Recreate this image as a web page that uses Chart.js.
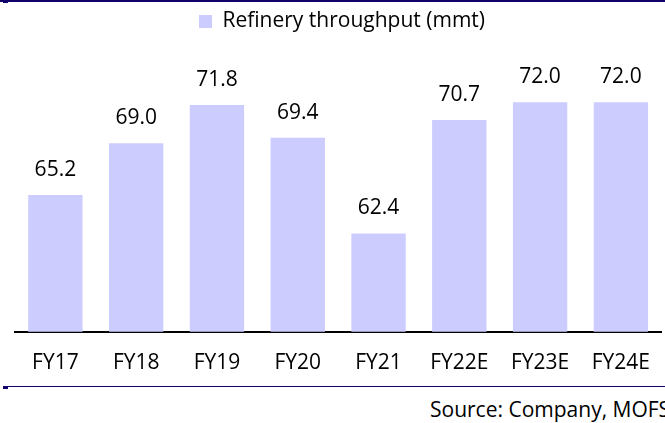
<!DOCTYPE html>
<html>
<head>
<meta charset="utf-8">
<script src="https://cdn.jsdelivr.net/npm/chart.js@4.4.1/dist/chart.umd.min.js"></script>
<style>
  html, body { margin: 0; padding: 0; background: #fff; overflow: hidden; }
  body { width: 665px; height: 423px; position: relative; }
  #c1 { position: absolute; left: 0; top: 0; }
  .rule { position: absolute; left: 0; width: 665px; background: #14006b; }
  #source { position: absolute; left: 430px; top: 395px; white-space: nowrap;
            font-family: 'Open Sans', sans-serif; font-size: 21px; color: #000; }
</style>
</head>
<body>
<div class="rule" style="top:0px;height:2px"></div>
<div class="rule" style="top:1px;left:3px;width:5px;height:2px"></div>
<canvas id="c1" width="669" height="395"></canvas>
<div class="rule" style="top:386px;left:3px;height:1px"></div>
<div class="rule" style="top:387px;left:3px;width:5px;height:2px"></div>
<div id="source">Source: Company, MOFS</div>
<script>
const YEARS = ['FY17', 'FY18', 'FY19', 'FY20', 'FY21', 'FY22E', 'FY23E', 'FY24E'];
const THROUGHPUT = [65.2, 69.0, 71.8, 69.4, 62.4, 70.7, 72.0, 72.0];
const SERIES_LABEL = 'Refinery throughput (mmt)';
const FONT = "'Open Sans', sans-serif";

// value labels above each bar
const valueLabels = {
    id: 'valueLabels',
    afterDatasetsDraw(chart){
        const ctx = chart.ctx;
        const meta = chart.getDatasetMeta(0);
        ctx.save();
        ctx.font = '21px ' + FONT;
        ctx.fillStyle = '#000';
        ctx.textAlign = 'center';
        ctx.textBaseline = 'middle';
        meta.data.forEach((bar, i) => {
            ctx.fillText(THROUGHPUT[i].toFixed(1), bar.x, bar.y - 25);
        });
        ctx.restore();
    }
};

const ctx = document.getElementById('c1').getContext('2d');
new Chart(ctx, {
    type: 'bar',
    data: {
        labels: YEARS,
        datasets: [{
            label: SERIES_LABEL,
            data: THROUGHPUT,
            backgroundColor: '#ccccff',
            borderWidth: 0,
            categoryPercentage: 1,
            barPercentage: 0.673
        }]
    },
    options: {
        responsive: false,
        animation: false,
        layout: {
            padding: { left: 15, right: 0, top: 1, bottom: 0 }
        },
        plugins: {
            legend: {
                display: true,
                position: 'top',
                labels: {
                    boxWidth: 13,
                    boxHeight: 13,
                    padding: 10,
                    color: '#000',
                    font: { family: FONT, size: 21 }
                }
            },
            tooltip: { enabled: false }
        },
        scales: {
            x: {
                grid: { display: false, drawTicks: false },
                border: { display: true, color: '#000', width: 2 },
                ticks: {
                    color: '#000',
                    padding: 19,
                    font: { family: FONT, size: 21 }
                }
            },
            y: {
                display: false,
                min: 55.2,
                max: 76.4
            }
        }
    },
    plugins: [valueLabels]
});
</script>
</body>
</html>
